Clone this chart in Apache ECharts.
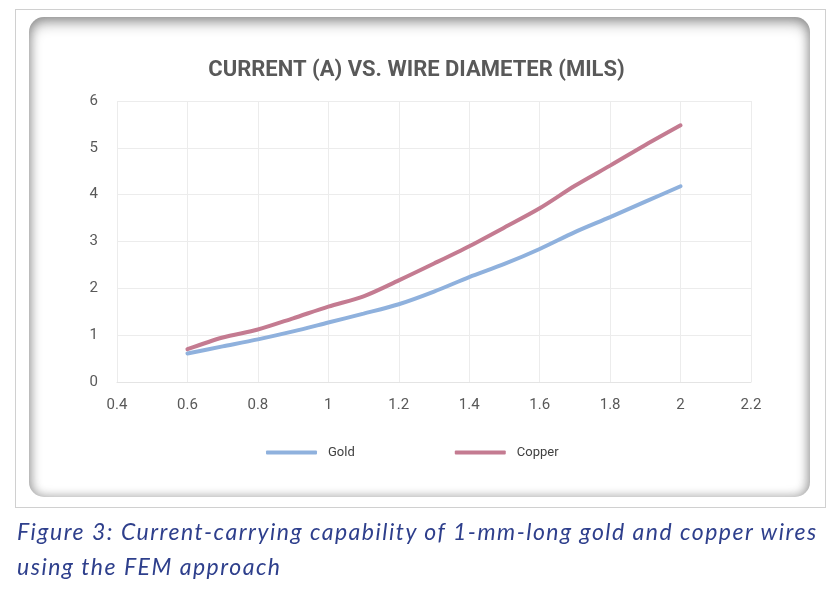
<!DOCTYPE html>
<html>
<head>
<meta charset="utf-8">
<script src="https://cdn.jsdelivr.net/npm/echarts@6/dist/echarts.min.js"></script>
<style>
  html, body { margin: 0; padding: 0; width: 833px; height: 591px; background: #ffffff; overflow: hidden; }
  #frame { position: absolute; left: 15px; top: 9px; width: 811px; height: 499px; border: 1px solid #d0d0d0; box-sizing: border-box; }
  #panel { position: absolute; left: 29px; top: 17px; width: 781px; height: 480px; border-radius: 15px; background: #ffffff;
           box-shadow: inset 0 6px 14px rgba(0,0,0,0.32), inset 0 0 10px 2px rgba(0,0,0,0.22); }
  #chart { position: absolute; left: 0; top: 0; width: 833px; height: 591px; }
  #caption { position: absolute; left: 17px; top: 514px; width: 830px; font-family: Lato, "Noto Sans", sans-serif; font-style: italic;
             font-size: 23px; letter-spacing: 1.5px; line-height: 35px; color: #2e3f8c; white-space: nowrap; }
</style>
</head>
<body>
<div id="frame"></div>
<div id="panel"></div>
<div id="chart"></div>
<div id="caption">Figure 3: Current-carrying capability of 1-mm-long gold and copper wires<br>using the FEM approach</div>
<script>
const chartTitle = 'CURRENT (A) VS. WIRE DIAMETER (MILS)';
const seriesNames = ['Gold', 'Copper'];
const diameters = [0.6, 0.7, 0.8, 0.9, 1.0, 1.1, 1.2, 1.3, 1.4, 1.5, 1.6, 1.7, 1.8, 1.9, 2.0];
const goldCurrent   = [0.61, 0.76, 0.91, 1.08, 1.27, 1.46, 1.66, 1.93, 2.24, 2.52, 2.84, 3.20, 3.52, 3.85, 4.18];
const copperCurrent = [0.70, 0.95, 1.12, 1.36, 1.61, 1.83, 2.17, 2.53, 2.90, 3.30, 3.71, 4.19, 4.62, 5.06, 5.48];
const xTicks = { min: 0.4, max: 2.2, interval: 0.2 };
const yTicks = { min: 0, max: 6, interval: 1 };

const pair = (xs, ys) => xs.map((x, i) => [x, ys[i]]);
const labelFont = 'Roboto, "Noto Sans", sans-serif';
const chart = echarts.init(document.getElementById('chart'), null, { renderer: 'canvas' });
chart.setOption({
  backgroundColor: 'transparent',
  animation: false,
  title: {
    text: chartTitle, left: 'center', top: 54,
    textStyle: { fontFamily: labelFont, fontWeight: 'bold', fontSize: 22, color: '#595959' }
  },
  legend: {
    data: seriesNames, top: 446, left: 266, padding: 0, itemWidth: 51, itemHeight: 4, itemGap: 100,
    icon: 'roundRect',
    textStyle: { fontFamily: labelFont, fontSize: 13, color: '#404040', padding: [0, 0, 0, 6] }
  },
  grid: { left: 117, right: 82, top: 101, bottom: 209 },
  xAxis: {
    type: 'value', min: xTicks.min, max: xTicks.max, interval: xTicks.interval,
    axisLine: { show: true, lineStyle: { color: '#e4e4e4' } }, axisTick: { show: false },
    splitLine: { show: true, lineStyle: { color: '#ececec', width: 1 } },
    axisLabel: { fontFamily: labelFont, fontSize: 15, color: '#595959', margin: 16 }
  },
  yAxis: {
    type: 'value', min: yTicks.min, max: yTicks.max, interval: yTicks.interval,
    axisLine: { show: false }, axisTick: { show: false },
    splitLine: { show: true, lineStyle: { color: '#ececec', width: 1 } },
    axisLabel: { fontFamily: labelFont, fontSize: 15, color: '#595959', margin: 19 }
  },
  series: [
    { name: seriesNames[0], type: 'line', data: pair(diameters, goldCurrent), smooth: 0.3, showSymbol: false,
      color: '#8fb1dd', lineStyle: { width: 4, color: '#8fb1dd', cap: 'round' } },
    { name: seriesNames[1], type: 'line', data: pair(diameters, copperCurrent), smooth: 0.3, showSymbol: false,
      color: '#c47b91', lineStyle: { width: 4, color: '#c47b91', cap: 'round' } }
  ]
});
</script>
</body>
</html>
